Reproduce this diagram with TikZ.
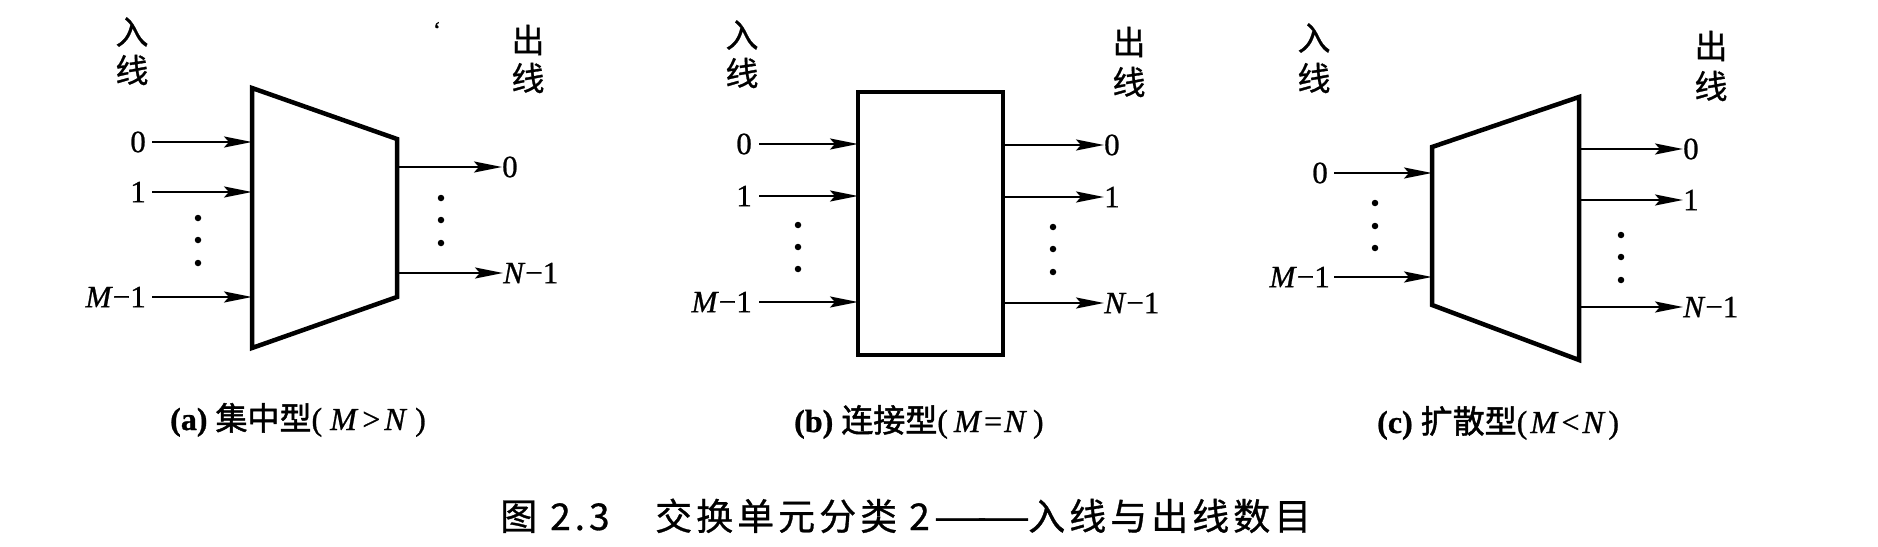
\documentclass[tikz,border=0pt]{standalone}
\usepackage{fontspec}
\setmainfont{Liberation Serif}
\newfontfamily\numf[FakeBold=0.8]{Liberation Serif}
\newfontfamily\cjk[FakeBold=0.8]{Noto Sans CJK SC}
\newfontfamily\cjkb[FakeBold=1.6]{Noto Sans CJK SC}
\usetikzlibrary{arrows.meta}
\newcommand\cjkls{\hspace{4pt}}
\tikzset{
  box/.style={line width=4.5pt, line join=miter},
  arr/.style={line width=2.2pt, -{Stealth[length=28pt,width=11pt,inset=5pt]}},
  dotc/.style={circle, fill, inner sep=0pt, minimum size=6.5pt},
  num/.style={inner sep=0pt, font=\numf\fontsize{31}{31}\selectfont},
  cjklab/.style={inner sep=0pt, font=\cjk\fontsize{33}{33}\selectfont},
  sub/.style={inner sep=0pt, anchor=base west, font=\numf\fontsize{32}{32}\selectfont},
  figcapstyle/.style={inner sep=0pt, anchor=base west, font=\cjk\fontsize{37}{37}\selectfont},
}
\begin{document}
\begin{tikzpicture}[x=1pt,y=-1pt]
\useasboundingbox[fill=white] (0,0) rectangle (1878,546);

% ---------------- panel (a) ----------------
\node[cjklab] (a-in1) at (132,32) {入};
\node[cjklab] (a-in2) at (132,70) {线};
\node[cjklab] (a-out1) at (528,40) {出};
\node[cjklab] (a-out2) at (528,78) {线};
\node[inner sep=0pt, font=\numf\fontsize{24}{24}\selectfont] (a-mark) at (437,30) {‘};
\coordinate (a-tl) at (252,88);
\coordinate (a-tr) at (397,139);
\coordinate (a-br) at (397,297);
\coordinate (a-bl) at (252,348);
\draw[box] (a-tl) -- (a-tr) -- (a-br) -- (a-bl) -- cycle;
% inputs
\node[num, anchor=east] (a-l0) at (146,142) {0};
\node[num, anchor=east] (a-l1) at (146,192) {1};
\node[num, anchor=east] (a-lm) at (146,297) {\textit{M}−1};
\coordinate (a-i0) at (252,142);
\coordinate (a-i1) at (252,192);
\coordinate (a-im) at (252,297);
\draw[arr] (a-l0.east) ++(6,0) -- (a-i0);
\draw[arr] (a-l1.east) ++(6,0) -- (a-i1);
\draw[arr] (a-lm.east) ++(6,0) -- (a-im);
\node[dotc] (a-d1) at (198,218) {};
\node[dotc] (a-d2) at (198,240) {};
\node[dotc] (a-d3) at (198,263) {};
% outputs
\coordinate (a-o0) at (397,167);
\coordinate (a-on) at (397,273);
\node[num, anchor=west] (a-r0) at (502,167) {0};
\node[num, anchor=west] (a-rn) at (503,273) {\textit{N}−1};
\draw[arr] (a-o0) -- (a-r0.west);
\draw[arr] (a-on) -- (a-rn.west);
\node[dotc] (a-e1) at (441,198) {};
\node[dotc] (a-e2) at (441,220) {};
\node[dotc] (a-e3) at (441,243) {};
\node[sub] (a-cap) at (170,430) {\textbf{(a)} {\cjkb 集中型}(\hspace{8pt}\textit{M}\hspace{4pt}>\hspace{4pt}\textit{N}\hspace{8pt})};

% ---------------- panel (b) ----------------
\node[cjklab] (b-in1) at (742,35) {入};
\node[cjklab] (b-in2) at (742,73) {线};
\node[cjklab] (b-out1) at (1129,42) {出};
\node[cjklab] (b-out2) at (1129,82) {线};
\node[box, draw, inner sep=0pt, minimum width=145pt, minimum height=263pt] (b-box) at (930.5,223.5) {};
\node[num, anchor=east] (b-l0) at (752,144) {0};
\node[num, anchor=east] (b-l1) at (752,196) {1};
\node[num, anchor=east] (b-lm) at (752,302) {\textit{M}−1};
\coordinate (b-i0) at (858,144);
\coordinate (b-i1) at (858,196);
\coordinate (b-im) at (858,302);
\draw[arr] (b-l0.east) ++(7,0) -- (b-i0);
\draw[arr] (b-l1.east) ++(7,0) -- (b-i1);
\draw[arr] (b-lm.east) ++(7,0) -- (b-im);
\node[dotc] (b-d1) at (798,225) {};
\node[dotc] (b-d2) at (798,247) {};
\node[dotc] (b-d3) at (798,269) {};
\coordinate (b-o0) at (1003,145);
\coordinate (b-o1) at (1003,197);
\coordinate (b-on) at (1003,303);
\node[num, anchor=west] (b-r0) at (1104,145) {0};
\node[num, anchor=west] (b-r1) at (1104,197) {1};
\node[num, anchor=west] (b-rn) at (1104,303) {\textit{N}−1};
\draw[arr] (b-o0) -- (b-r0.west);
\draw[arr] (b-o1) -- (b-r1.west);
\draw[arr] (b-on) -- (b-rn.west);
\node[dotc] (b-e1) at (1053,227) {};
\node[dotc] (b-e2) at (1053,249) {};
\node[dotc] (b-e3) at (1053,272) {};
\node[sub] (b-cap) at (794,432) {\textbf{(b)} {\cjkb 连接型}(\hspace{6pt}\textit{M}\hspace{2pt}=\hspace{2pt}\textit{N}\hspace{6pt})};

% ---------------- panel (c) ----------------
\node[cjklab] (c-in1) at (1314,38) {入};
\node[cjklab] (c-in2) at (1314,78) {线};
\node[cjklab] (c-out1) at (1711,46) {出};
\node[cjklab] (c-out2) at (1711,86) {线};
\coordinate (c-tl) at (1432,147);
\coordinate (c-tr) at (1579,97);
\coordinate (c-br) at (1579,360);
\coordinate (c-bl) at (1432,305);
\draw[box] (c-tl) -- (c-tr) -- (c-br) -- (c-bl) -- cycle;
\node[num, anchor=east] (c-l0) at (1328,173) {0};
\node[num, anchor=east] (c-lm) at (1330,277) {\textit{M}−1};
\coordinate (c-i0) at (1432,173);
\coordinate (c-im) at (1432,277);
\draw[arr] (c-l0.east) ++(6,0) -- (c-i0);
\draw[arr] (c-lm.east) ++(4,0) -- (c-im);
\node[dotc] (c-d1) at (1375,203) {};
\node[dotc] (c-d2) at (1375,226) {};
\node[dotc] (c-d3) at (1375,248) {};
\coordinate (c-o0) at (1579,149);
\coordinate (c-o1) at (1579,200);
\coordinate (c-on) at (1579,307);
\node[num, anchor=west] (c-r0) at (1683,149) {0};
\node[num, anchor=west] (c-r1) at (1683,200) {1};
\node[num, anchor=west] (c-rn) at (1683,307) {\textit{N}−1};
\draw[arr] (c-o0) -- (c-r0.west);
\draw[arr] (c-o1) -- (c-r1.west);
\draw[arr] (c-on) -- (c-rn.west);
\node[dotc] (c-e1) at (1621,235) {};
\node[dotc] (c-e2) at (1621,257) {};
\node[dotc] (c-e3) at (1621,280) {};
\node[sub] (c-cap) at (1377,433) {\textbf{(c)} {\cjkb 扩散型}(\hspace{3pt}\textit{M}\hspace{3pt}<\hspace{3pt}\textit{N}\hspace{3pt})};

% ---------------- figure caption ----------------
\node[figcapstyle] (fc-1) at (500,530) {图};
\node[figcapstyle] (fc-2) at (550,530) {2\hspace{4pt}.\hspace{4pt}3};
\node[figcapstyle] (fc-3) at (655,530) {交\cjkls 换\cjkls 单\cjkls 元\cjkls 分\cjkls 类};
\node[figcapstyle] (fc-4) at (909,530) {2};
\node[figcapstyle] (fc-5) at (933,530) {\scalebox{1.65}[1]{—\hspace{-7pt}—}};
\node[figcapstyle] (fc-6) at (1028,530) {入\cjkls 线\cjkls 与\cjkls 出\cjkls 线\cjkls 数\cjkls 目};
\end{tikzpicture}
\end{document}
